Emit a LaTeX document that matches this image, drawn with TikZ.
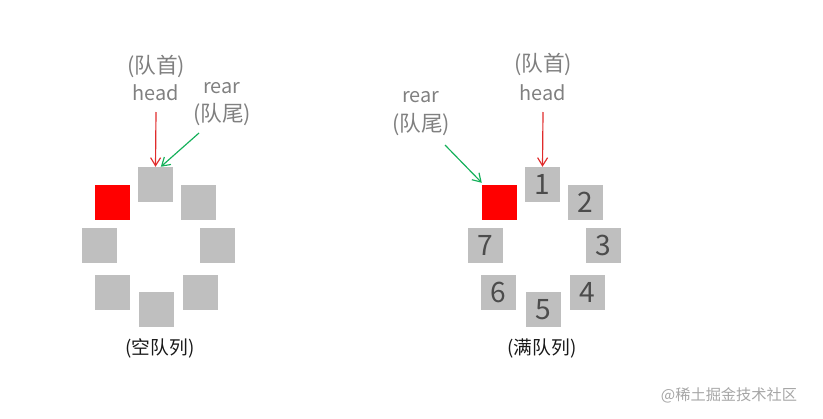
\documentclass[tikz,border=0pt]{standalone}
\usepackage{fontspec}
\setmainfont{Noto Sans CJK SC}
\usepackage{tikz}
\usetikzlibrary{arrows.meta, positioning}
\definecolor{cellgray}{HTML}{BFBFBF}
\definecolor{labelgray}{HTML}{808080}
\definecolor{headred}{HTML}{E02B2B}
\definecolor{reargreen}{HTML}{14B05A}
\tikzset{
  cell/.style={rectangle, fill=cellgray, minimum size=1.05cm, inner sep=0pt, text=black!70, font=\fontsize{24}{24}\selectfont},
  rearcell/.style={cell, fill=red},
  tag/.style={text=labelgray, inner sep=0pt, font=\fontsize{17}{18}\selectfont},
  cjktag/.style={tag, font=\fontsize{18.5}{20}\selectfont},
  caption/.style={inner sep=0pt, text=black!90, font=\fontsize{16}{18}\selectfont},
  pointer/.style={->, line width=1pt},
}

\begin{document}
\begin{tikzpicture}[x=0.03cm, y=-0.03cm, >={Straight Barb[length=2.4mm, width=3mm]}]
        \useasboundingbox (0,0) rectangle (823,418);

        % Empty queue
        \node[cell] (e1) at (155.5,184.5) {};
        \node[cell] (e2) at (198.5,202.5) {};
        \node[cell] (e3) at (217.5,245.5) {};
        \node[cell] (e4) at (200.5,292.5) {};
        \node[cell] (e5) at (156.5,309.5) {};
        \node[cell] (e6) at (112.5,292.5) {};
        \node[cell] (e7) at (99.5,245.5) {};
        \node[rearcell] (e0) at (112.5,202.5) {};

        \node[cjktag] (ehd) at (156,66) {(队首)};
        \node[tag] (ehead) at (156,93) {head};
        \node[tag] (erear) at (222,88) {rear};
        \node[cjktag] (ert) at (222,115) {(队尾)};
        \node[caption] (ecap) at (160,348) {(空队列)};

        \coordinate (eh) at (156,112);
        \coordinate (er) at (199,133);
        \draw[pointer, headred] (eh) -- (e1.north);
        \draw[pointer, reargreen] (er) -- ([xshift=1.6mm]e1.north);

        % Full queue
        \node[cell] (f1) at (542.5,184.5) {1};
        \node[cell] (f2) at (585.5,202.5) {2};
        \node[cell] (f3) at (603.5,245.5) {3};
        \node[cell] (f4) at (587.5,292.5) {4};
        \node[cell] (f5) at (543.5,309.5) {5};
        \node[cell] (f6) at (498.5,292.5) {6};
        \node[cell] (f7) at (485.5,245.5) {7};
        \node[rearcell] (f0) at (499.5,202.5) {};

        \node[cjktag] (fhd) at (543,64) {(队首)};
        \node[tag] (fhead) at (543,93) {head};
        \node[tag] (frear) at (421,97) {rear};
        \node[cjktag] (frt) at (421,125) {(队尾)};
        \node[caption] (fcap) at (542,348) {(满队列)};

        \coordinate (fh) at (543,112);
        \coordinate (fr) at (445,145);
        \draw[pointer, headred] (fh) -- (f1.north);
        \draw[pointer, reargreen] (fr) -- ([yshift=0.6mm]f0.north west);

        % Watermark
        \node[inner sep=0pt, text=black!35, font=\fontsize{13}{15}\selectfont] (mark) at (729,395) {@稀土掘金技术社区};
\end{tikzpicture}
\end{document}
